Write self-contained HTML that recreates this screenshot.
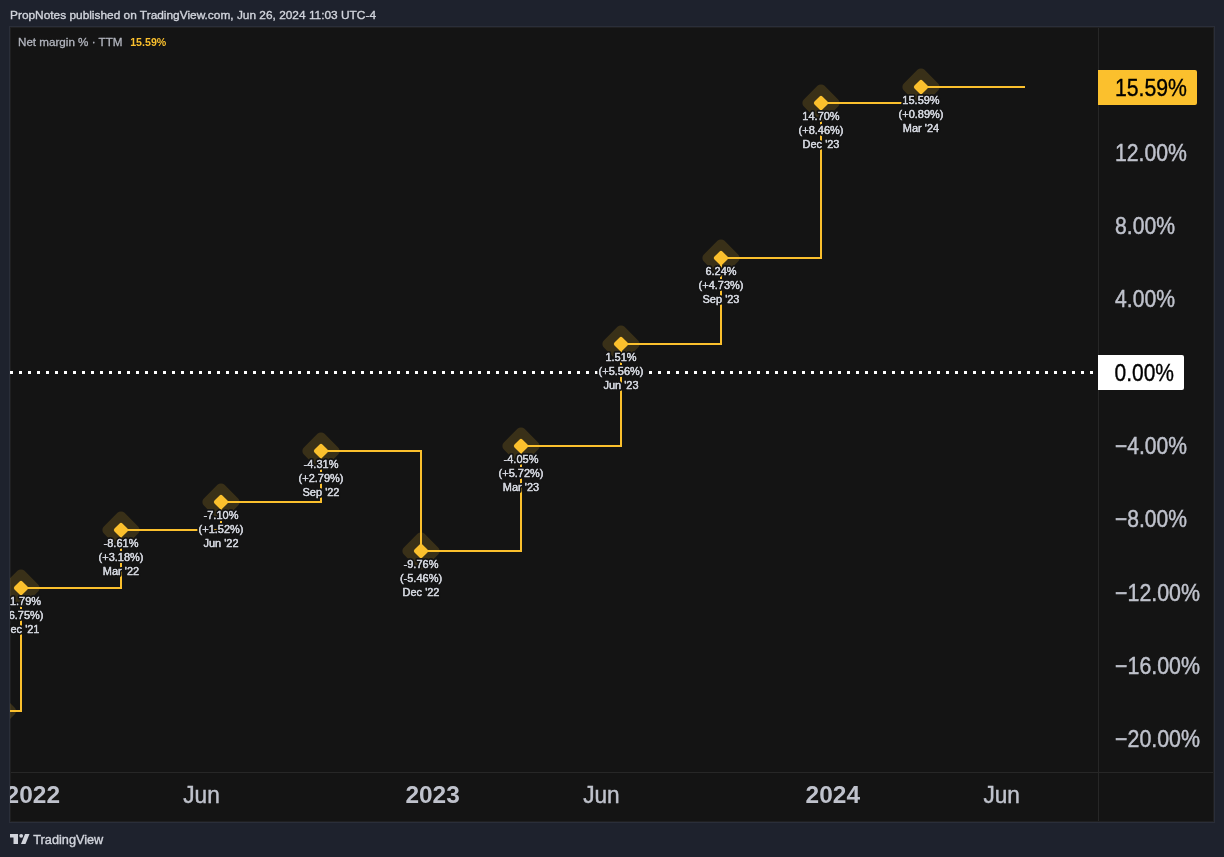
<!DOCTYPE html>
<html><head><meta charset="utf-8"><style>
html,body{margin:0;padding:0;background:#1e222d;width:1224px;height:857px;overflow:hidden}
svg{display:block;will-change:transform}
text{font-family:"Liberation Sans",sans-serif}
</style></head><body>
<svg width="1224" height="857" viewBox="0 0 1224 857">
<rect x="0" y="0" width="1224" height="857" fill="#1e222d"/>
<text x="10" y="18.7" font-size="11.6" fill="#d1d4dc" stroke="#d1d4dc" stroke-width="0.35" textLength="366" lengthAdjust="spacingAndGlyphs">PropNotes published on TradingView.com, Jun 26, 2024 11:03 UTC-4</text>
<rect x="9" y="26" width="1206" height="797" fill="#2a2e39"/>
<rect x="10" y="27" width="1204" height="795" fill="#1f1f20"/>
<rect x="11" y="28" width="1202" height="793" fill="#141414"/>
<rect x="1098" y="28" width="1" height="793" fill="#272727"/>
<rect x="11" y="772" width="1202" height="1" fill="#272727"/>

<defs><clipPath id="pane"><rect x="10" y="27" width="1088" height="745"/></clipPath></defs>
<g clip-path="url(#pane)">
<line x1="10" y1="372.5" x2="1098" y2="372.5" stroke="#ffffff" stroke-width="3" stroke-dasharray="3 6"/>
<path d="M21 574.4 L34.6 588 L21 601.6 L7.4 588 Z" fill="#fbc02d" stroke="#fbc02d" stroke-width="10" stroke-linejoin="round" opacity="0.16"/>
<path d="M121 516.4 L134.6 530 L121 543.6 L107.4 530 Z" fill="#fbc02d" stroke="#fbc02d" stroke-width="10" stroke-linejoin="round" opacity="0.16"/>
<path d="M221 488.4 L234.6 502 L221 515.6 L207.4 502 Z" fill="#fbc02d" stroke="#fbc02d" stroke-width="10" stroke-linejoin="round" opacity="0.16"/>
<path d="M321 437.4 L334.6 451 L321 464.6 L307.4 451 Z" fill="#fbc02d" stroke="#fbc02d" stroke-width="10" stroke-linejoin="round" opacity="0.16"/>
<path d="M421 537.4 L434.6 551 L421 564.6 L407.4 551 Z" fill="#fbc02d" stroke="#fbc02d" stroke-width="10" stroke-linejoin="round" opacity="0.16"/>
<path d="M521 432.4 L534.6 446 L521 459.6 L507.4 446 Z" fill="#fbc02d" stroke="#fbc02d" stroke-width="10" stroke-linejoin="round" opacity="0.16"/>
<path d="M621 330.4 L634.6 344 L621 357.6 L607.4 344 Z" fill="#fbc02d" stroke="#fbc02d" stroke-width="10" stroke-linejoin="round" opacity="0.16"/>
<path d="M721 244.4 L734.6 258 L721 271.6 L707.4 258 Z" fill="#fbc02d" stroke="#fbc02d" stroke-width="10" stroke-linejoin="round" opacity="0.16"/>
<path d="M821 89.4 L834.6 103 L821 116.6 L807.4 103 Z" fill="#fbc02d" stroke="#fbc02d" stroke-width="10" stroke-linejoin="round" opacity="0.16"/>
<path d="M921 73.4 L934.6 87 L921 100.6 L907.4 87 Z" fill="#fbc02d" stroke="#fbc02d" stroke-width="10" stroke-linejoin="round" opacity="0.16"/>
<path d="M-2 698 L11 711 L-2 724 L-15 711 Z" fill="#fbc02d" stroke="#fbc02d" stroke-width="10" stroke-linejoin="round" opacity="0.16"/>
<path d="M10 711 L21 711 L21 588 L121 588 L121 530 L221 530 L221 502 L321 502 L321 451 L421 451 L421 551 L521 551 L521 446 L621 446 L621 344 L721 344 L721 258 L821 258 L821 103 L921 103 L921 87 L1025 87 " fill="none" stroke="#fbc02d" stroke-width="2" stroke-linejoin="miter"/>
<path d="M21 582.9 L26.1 588 L21 593.1 L15.9 588 Z" fill="#fbc02d" stroke="#fbc02d" stroke-width="4" stroke-linejoin="round"/>
<path d="M121 524.9 L126.1 530 L121 535.1 L115.9 530 Z" fill="#fbc02d" stroke="#fbc02d" stroke-width="4" stroke-linejoin="round"/>
<path d="M221 496.9 L226.1 502 L221 507.1 L215.9 502 Z" fill="#fbc02d" stroke="#fbc02d" stroke-width="4" stroke-linejoin="round"/>
<path d="M321 445.9 L326.1 451 L321 456.1 L315.9 451 Z" fill="#fbc02d" stroke="#fbc02d" stroke-width="4" stroke-linejoin="round"/>
<path d="M421 545.9 L426.1 551 L421 556.1 L415.9 551 Z" fill="#fbc02d" stroke="#fbc02d" stroke-width="4" stroke-linejoin="round"/>
<path d="M521 440.9 L526.1 446 L521 451.1 L515.9 446 Z" fill="#fbc02d" stroke="#fbc02d" stroke-width="4" stroke-linejoin="round"/>
<path d="M621 338.9 L626.1 344 L621 349.1 L615.9 344 Z" fill="#fbc02d" stroke="#fbc02d" stroke-width="4" stroke-linejoin="round"/>
<path d="M721 252.9 L726.1 258 L721 263.1 L715.9 258 Z" fill="#fbc02d" stroke="#fbc02d" stroke-width="4" stroke-linejoin="round"/>
<path d="M821 97.9 L826.1 103 L821 108.1 L815.9 103 Z" fill="#fbc02d" stroke="#fbc02d" stroke-width="4" stroke-linejoin="round"/>
<path d="M921 81.9 L926.1 87 L921 92.1 L915.9 87 Z" fill="#fbc02d" stroke="#fbc02d" stroke-width="4" stroke-linejoin="round"/>
<text transform="translate(21 605) scale(0.94 1)" font-size="11.7" text-anchor="middle" fill="#d1d4dc" stroke="#141414" stroke-width="4" paint-order="stroke" stroke-linejoin="round">-11.79%</text>
<text transform="translate(21 605) scale(0.94 1)" font-size="11.7" text-anchor="middle" fill="#d1d4dc" stroke="#d1d4dc" stroke-width="0.35">-11.79%</text>
<text transform="translate(21 619) scale(0.94 1)" font-size="11.7" text-anchor="middle" fill="#d1d4dc" stroke="#141414" stroke-width="4" paint-order="stroke" stroke-linejoin="round">(+6.75%)</text>
<text transform="translate(21 619) scale(0.94 1)" font-size="11.7" text-anchor="middle" fill="#d1d4dc" stroke="#d1d4dc" stroke-width="0.35">(+6.75%)</text>
<text transform="translate(21 633) scale(0.94 1)" font-size="11.7" text-anchor="middle" fill="#d1d4dc" stroke="#141414" stroke-width="4" paint-order="stroke" stroke-linejoin="round">Dec '21</text>
<text transform="translate(21 633) scale(0.94 1)" font-size="11.7" text-anchor="middle" fill="#d1d4dc" stroke="#d1d4dc" stroke-width="0.35">Dec '21</text>
<text transform="translate(121 547) scale(0.94 1)" font-size="11.7" text-anchor="middle" fill="#d1d4dc" stroke="#141414" stroke-width="4" paint-order="stroke" stroke-linejoin="round">-8.61%</text>
<text transform="translate(121 547) scale(0.94 1)" font-size="11.7" text-anchor="middle" fill="#d1d4dc" stroke="#d1d4dc" stroke-width="0.35">-8.61%</text>
<text transform="translate(121 561) scale(0.94 1)" font-size="11.7" text-anchor="middle" fill="#d1d4dc" stroke="#141414" stroke-width="4" paint-order="stroke" stroke-linejoin="round">(+3.18%)</text>
<text transform="translate(121 561) scale(0.94 1)" font-size="11.7" text-anchor="middle" fill="#d1d4dc" stroke="#d1d4dc" stroke-width="0.35">(+3.18%)</text>
<text transform="translate(121 575) scale(0.94 1)" font-size="11.7" text-anchor="middle" fill="#d1d4dc" stroke="#141414" stroke-width="4" paint-order="stroke" stroke-linejoin="round">Mar '22</text>
<text transform="translate(121 575) scale(0.94 1)" font-size="11.7" text-anchor="middle" fill="#d1d4dc" stroke="#d1d4dc" stroke-width="0.35">Mar '22</text>
<text transform="translate(221 519) scale(0.94 1)" font-size="11.7" text-anchor="middle" fill="#d1d4dc" stroke="#141414" stroke-width="4" paint-order="stroke" stroke-linejoin="round">-7.10%</text>
<text transform="translate(221 519) scale(0.94 1)" font-size="11.7" text-anchor="middle" fill="#d1d4dc" stroke="#d1d4dc" stroke-width="0.35">-7.10%</text>
<text transform="translate(221 533) scale(0.94 1)" font-size="11.7" text-anchor="middle" fill="#d1d4dc" stroke="#141414" stroke-width="4" paint-order="stroke" stroke-linejoin="round">(+1.52%)</text>
<text transform="translate(221 533) scale(0.94 1)" font-size="11.7" text-anchor="middle" fill="#d1d4dc" stroke="#d1d4dc" stroke-width="0.35">(+1.52%)</text>
<text transform="translate(221 547) scale(0.94 1)" font-size="11.7" text-anchor="middle" fill="#d1d4dc" stroke="#141414" stroke-width="4" paint-order="stroke" stroke-linejoin="round">Jun '22</text>
<text transform="translate(221 547) scale(0.94 1)" font-size="11.7" text-anchor="middle" fill="#d1d4dc" stroke="#d1d4dc" stroke-width="0.35">Jun '22</text>
<text transform="translate(321 468) scale(0.94 1)" font-size="11.7" text-anchor="middle" fill="#d1d4dc" stroke="#141414" stroke-width="4" paint-order="stroke" stroke-linejoin="round">-4.31%</text>
<text transform="translate(321 468) scale(0.94 1)" font-size="11.7" text-anchor="middle" fill="#d1d4dc" stroke="#d1d4dc" stroke-width="0.35">-4.31%</text>
<text transform="translate(321 482) scale(0.94 1)" font-size="11.7" text-anchor="middle" fill="#d1d4dc" stroke="#141414" stroke-width="4" paint-order="stroke" stroke-linejoin="round">(+2.79%)</text>
<text transform="translate(321 482) scale(0.94 1)" font-size="11.7" text-anchor="middle" fill="#d1d4dc" stroke="#d1d4dc" stroke-width="0.35">(+2.79%)</text>
<text transform="translate(321 496) scale(0.94 1)" font-size="11.7" text-anchor="middle" fill="#d1d4dc" stroke="#141414" stroke-width="4" paint-order="stroke" stroke-linejoin="round">Sep '22</text>
<text transform="translate(321 496) scale(0.94 1)" font-size="11.7" text-anchor="middle" fill="#d1d4dc" stroke="#d1d4dc" stroke-width="0.35">Sep '22</text>
<text transform="translate(421 568) scale(0.94 1)" font-size="11.7" text-anchor="middle" fill="#d1d4dc" stroke="#141414" stroke-width="4" paint-order="stroke" stroke-linejoin="round">-9.76%</text>
<text transform="translate(421 568) scale(0.94 1)" font-size="11.7" text-anchor="middle" fill="#d1d4dc" stroke="#d1d4dc" stroke-width="0.35">-9.76%</text>
<text transform="translate(421 582) scale(0.94 1)" font-size="11.7" text-anchor="middle" fill="#d1d4dc" stroke="#141414" stroke-width="4" paint-order="stroke" stroke-linejoin="round">(-5.46%)</text>
<text transform="translate(421 582) scale(0.94 1)" font-size="11.7" text-anchor="middle" fill="#d1d4dc" stroke="#d1d4dc" stroke-width="0.35">(-5.46%)</text>
<text transform="translate(421 596) scale(0.94 1)" font-size="11.7" text-anchor="middle" fill="#d1d4dc" stroke="#141414" stroke-width="4" paint-order="stroke" stroke-linejoin="round">Dec '22</text>
<text transform="translate(421 596) scale(0.94 1)" font-size="11.7" text-anchor="middle" fill="#d1d4dc" stroke="#d1d4dc" stroke-width="0.35">Dec '22</text>
<text transform="translate(521 463) scale(0.94 1)" font-size="11.7" text-anchor="middle" fill="#d1d4dc" stroke="#141414" stroke-width="4" paint-order="stroke" stroke-linejoin="round">-4.05%</text>
<text transform="translate(521 463) scale(0.94 1)" font-size="11.7" text-anchor="middle" fill="#d1d4dc" stroke="#d1d4dc" stroke-width="0.35">-4.05%</text>
<text transform="translate(521 477) scale(0.94 1)" font-size="11.7" text-anchor="middle" fill="#d1d4dc" stroke="#141414" stroke-width="4" paint-order="stroke" stroke-linejoin="round">(+5.72%)</text>
<text transform="translate(521 477) scale(0.94 1)" font-size="11.7" text-anchor="middle" fill="#d1d4dc" stroke="#d1d4dc" stroke-width="0.35">(+5.72%)</text>
<text transform="translate(521 491) scale(0.94 1)" font-size="11.7" text-anchor="middle" fill="#d1d4dc" stroke="#141414" stroke-width="4" paint-order="stroke" stroke-linejoin="round">Mar '23</text>
<text transform="translate(521 491) scale(0.94 1)" font-size="11.7" text-anchor="middle" fill="#d1d4dc" stroke="#d1d4dc" stroke-width="0.35">Mar '23</text>
<text transform="translate(621 361) scale(0.94 1)" font-size="11.7" text-anchor="middle" fill="#d1d4dc" stroke="#141414" stroke-width="4" paint-order="stroke" stroke-linejoin="round">1.51%</text>
<text transform="translate(621 361) scale(0.94 1)" font-size="11.7" text-anchor="middle" fill="#d1d4dc" stroke="#d1d4dc" stroke-width="0.35">1.51%</text>
<text transform="translate(621 375) scale(0.94 1)" font-size="11.7" text-anchor="middle" fill="#d1d4dc" stroke="#141414" stroke-width="4" paint-order="stroke" stroke-linejoin="round">(+5.56%)</text>
<text transform="translate(621 375) scale(0.94 1)" font-size="11.7" text-anchor="middle" fill="#d1d4dc" stroke="#d1d4dc" stroke-width="0.35">(+5.56%)</text>
<text transform="translate(621 389) scale(0.94 1)" font-size="11.7" text-anchor="middle" fill="#d1d4dc" stroke="#141414" stroke-width="4" paint-order="stroke" stroke-linejoin="round">Jun '23</text>
<text transform="translate(621 389) scale(0.94 1)" font-size="11.7" text-anchor="middle" fill="#d1d4dc" stroke="#d1d4dc" stroke-width="0.35">Jun '23</text>
<text transform="translate(721 275) scale(0.94 1)" font-size="11.7" text-anchor="middle" fill="#d1d4dc" stroke="#141414" stroke-width="4" paint-order="stroke" stroke-linejoin="round">6.24%</text>
<text transform="translate(721 275) scale(0.94 1)" font-size="11.7" text-anchor="middle" fill="#d1d4dc" stroke="#d1d4dc" stroke-width="0.35">6.24%</text>
<text transform="translate(721 289) scale(0.94 1)" font-size="11.7" text-anchor="middle" fill="#d1d4dc" stroke="#141414" stroke-width="4" paint-order="stroke" stroke-linejoin="round">(+4.73%)</text>
<text transform="translate(721 289) scale(0.94 1)" font-size="11.7" text-anchor="middle" fill="#d1d4dc" stroke="#d1d4dc" stroke-width="0.35">(+4.73%)</text>
<text transform="translate(721 303) scale(0.94 1)" font-size="11.7" text-anchor="middle" fill="#d1d4dc" stroke="#141414" stroke-width="4" paint-order="stroke" stroke-linejoin="round">Sep '23</text>
<text transform="translate(721 303) scale(0.94 1)" font-size="11.7" text-anchor="middle" fill="#d1d4dc" stroke="#d1d4dc" stroke-width="0.35">Sep '23</text>
<text transform="translate(821 120) scale(0.94 1)" font-size="11.7" text-anchor="middle" fill="#d1d4dc" stroke="#141414" stroke-width="4" paint-order="stroke" stroke-linejoin="round">14.70%</text>
<text transform="translate(821 120) scale(0.94 1)" font-size="11.7" text-anchor="middle" fill="#d1d4dc" stroke="#d1d4dc" stroke-width="0.35">14.70%</text>
<text transform="translate(821 134) scale(0.94 1)" font-size="11.7" text-anchor="middle" fill="#d1d4dc" stroke="#141414" stroke-width="4" paint-order="stroke" stroke-linejoin="round">(+8.46%)</text>
<text transform="translate(821 134) scale(0.94 1)" font-size="11.7" text-anchor="middle" fill="#d1d4dc" stroke="#d1d4dc" stroke-width="0.35">(+8.46%)</text>
<text transform="translate(821 148) scale(0.94 1)" font-size="11.7" text-anchor="middle" fill="#d1d4dc" stroke="#141414" stroke-width="4" paint-order="stroke" stroke-linejoin="round">Dec '23</text>
<text transform="translate(821 148) scale(0.94 1)" font-size="11.7" text-anchor="middle" fill="#d1d4dc" stroke="#d1d4dc" stroke-width="0.35">Dec '23</text>
<text transform="translate(921 104) scale(0.94 1)" font-size="11.7" text-anchor="middle" fill="#d1d4dc" stroke="#141414" stroke-width="4" paint-order="stroke" stroke-linejoin="round">15.59%</text>
<text transform="translate(921 104) scale(0.94 1)" font-size="11.7" text-anchor="middle" fill="#d1d4dc" stroke="#d1d4dc" stroke-width="0.35">15.59%</text>
<text transform="translate(921 118) scale(0.94 1)" font-size="11.7" text-anchor="middle" fill="#d1d4dc" stroke="#141414" stroke-width="4" paint-order="stroke" stroke-linejoin="round">(+0.89%)</text>
<text transform="translate(921 118) scale(0.94 1)" font-size="11.7" text-anchor="middle" fill="#d1d4dc" stroke="#d1d4dc" stroke-width="0.35">(+0.89%)</text>
<text transform="translate(921 132) scale(0.94 1)" font-size="11.7" text-anchor="middle" fill="#d1d4dc" stroke="#141414" stroke-width="4" paint-order="stroke" stroke-linejoin="round">Mar '24</text>
<text transform="translate(921 132) scale(0.94 1)" font-size="11.7" text-anchor="middle" fill="#d1d4dc" stroke="#d1d4dc" stroke-width="0.35">Mar '24</text>
</g>
<text x="1115" y="160.9" font-size="23.8" fill="#bfc2cc" stroke="#bfc2cc" stroke-width="0.45" textLength="72.0" lengthAdjust="spacingAndGlyphs">12.00%</text>
<text x="1115" y="234.1" font-size="23.8" fill="#bfc2cc" stroke="#bfc2cc" stroke-width="0.45" textLength="60.0" lengthAdjust="spacingAndGlyphs">8.00%</text>
<text x="1115" y="307.4" font-size="23.8" fill="#bfc2cc" stroke="#bfc2cc" stroke-width="0.45" textLength="60.0" lengthAdjust="spacingAndGlyphs">4.00%</text>
<text x="1115" y="454.0" font-size="23.8" fill="#bfc2cc" stroke="#bfc2cc" stroke-width="0.45" textLength="72.0" lengthAdjust="spacingAndGlyphs">−4.00%</text>
<text x="1115" y="527.3" font-size="23.8" fill="#bfc2cc" stroke="#bfc2cc" stroke-width="0.45" textLength="72.0" lengthAdjust="spacingAndGlyphs">−8.00%</text>
<text x="1115" y="600.5" font-size="23.8" fill="#bfc2cc" stroke="#bfc2cc" stroke-width="0.45" textLength="85.0" lengthAdjust="spacingAndGlyphs">−12.00%</text>
<text x="1115" y="673.8" font-size="23.8" fill="#bfc2cc" stroke="#bfc2cc" stroke-width="0.45" textLength="85.0" lengthAdjust="spacingAndGlyphs">−16.00%</text>
<text x="1115" y="747.1" font-size="23.8" fill="#bfc2cc" stroke="#bfc2cc" stroke-width="0.45" textLength="85.0" lengthAdjust="spacingAndGlyphs">−20.00%</text>
<path d="M1098 70 H1195 Q1197 70 1197 72 V103 Q1197 105 1195 105 H1098 Z" fill="#fbc02d"/>
<text x="1115" y="96" font-size="23.8" fill="#000" stroke="#000" stroke-width="0.35" textLength="72" lengthAdjust="spacingAndGlyphs">15.59%</text>
<path d="M1098 355 H1182 Q1184 355 1184 357 V388 Q1184 390 1182 390 H1098 Z" fill="#ffffff"/>
<text x="1114.5" y="381" font-size="23.8" fill="#000" stroke="#000" stroke-width="0.35" textLength="59.5" lengthAdjust="spacingAndGlyphs">0.00%</text>
<defs><clipPath id="taxis"><rect x="10" y="773" width="1088" height="48"/></clipPath></defs>
<g clip-path="url(#taxis)">
<text x="5.6" y="803.2" font-size="23.8" font-weight="bold" fill="#bfc2cc" textLength="54.4" lengthAdjust="spacingAndGlyphs">2022</text>
<text x="405.4" y="803.2" font-size="23.8" font-weight="bold" fill="#bfc2cc" textLength="54.4" lengthAdjust="spacingAndGlyphs">2023</text>
<text x="805.6" y="803.2" font-size="23.8" font-weight="bold" fill="#bfc2cc" textLength="54.4" lengthAdjust="spacingAndGlyphs">2024</text>
<text x="183.3" y="803.2" font-size="23.8" fill="#bfc2cc" stroke="#bfc2cc" stroke-width="0.45" textLength="36.5" lengthAdjust="spacingAndGlyphs">Jun</text>
<text x="583.2" y="803.2" font-size="23.8" fill="#bfc2cc" stroke="#bfc2cc" stroke-width="0.45" textLength="36.5" lengthAdjust="spacingAndGlyphs">Jun</text>
<text x="983.4" y="803.2" font-size="23.8" fill="#bfc2cc" stroke="#bfc2cc" stroke-width="0.45" textLength="36.5" lengthAdjust="spacingAndGlyphs">Jun</text>
</g>
<text x="18" y="45.8" font-size="11.2" fill="#b2b5be" stroke="#b2b5be" stroke-width="0.3" textLength="104.5" lengthAdjust="spacingAndGlyphs">Net margin % · TTM</text>
<text x="130.2" y="45.8" font-size="11.5" font-weight="bold" fill="#fbc02d" textLength="36.1" lengthAdjust="spacingAndGlyphs">15.59%</text>
<path d="M10 834 H18 V844 H13.5 V837.5 H10 Z" fill="#d1d4dc"/>
<circle cx="21.2" cy="835.8" r="1.9" fill="#d1d4dc"/>
<path d="M25 834 H29.5 L25.5 844 H21 Z" fill="#d1d4dc"/>
<text x="33.3" y="843.9" font-size="13" fill="#d1d4dc" stroke="#d1d4dc" stroke-width="0.4" textLength="70" lengthAdjust="spacingAndGlyphs">TradingView</text>
</svg></body></html>
